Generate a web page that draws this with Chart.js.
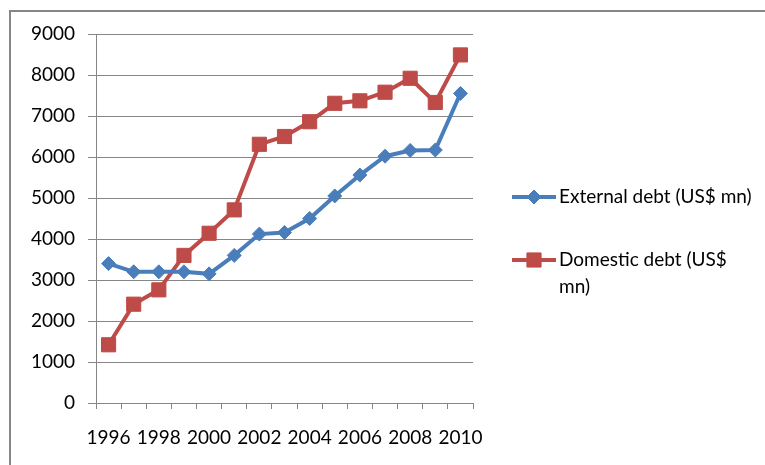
<!DOCTYPE html>
<html>
<head>
<meta charset="utf-8">
<script src="https://cdn.jsdelivr.net/npm/chart.js@4.4.1/dist/chart.umd.min.js"></script>
<style>
html,body{margin:0;padding:0;background:#fff;overflow:hidden;}
#wrap{position:relative;width:765px;height:465px;}
#frame{position:absolute;left:9px;top:10px;width:800px;height:500px;border-left:2px solid #868686;border-top:2px solid #868686;box-sizing:border-box;}
canvas{position:absolute;left:0;top:0;}
</style>
</head>
<body>
<div id="wrap">
<div id="frame"></div>
<canvas id="c" width="765" height="465"></canvas>
</div>
<script>
const years = ['1996','1997','1998','1999','2000','2001','2002','2003','2004','2005','2006','2007','2008','2009','2010'];
const externalDebt = [3400, 3200, 3200, 3200, 3150, 3600, 4120, 4160, 4500, 5050, 5560, 6020, 6160, 6170, 7550];
const domesticDebt = [1420, 2410, 2760, 3600, 4140, 4710, 6310, 6500, 6860, 7310, 7370, 7580, 7920, 7330, 8490];
const seriesNames = ['External debt (US$ mn)', 'Domestic debt (US$ mn)'];
const legendLines = [['External debt (US$ mn)'], ['Domestic debt (US$', 'mn)']];
const yTicks = [0, 1000, 2000, 3000, 4000, 5000, 6000, 7000, 8000, 9000];

const BLUE = '#4A7EBB';
const RED = '#BE4B48';
const FONT = 'Lato, "Open Sans", sans-serif';
const FSIZE = 19;

const legendPlugin = {
  id: 'customLegend',
  afterDraw(chart) {
    const ctx = chart.ctx;
    const rows = [{y: 197, lines: legendLines[0], ds: 0}, {y: 260, lines: legendLines[1], ds: 1}];
    ctx.save();
    rows.forEach(r => {
      const ds = chart.data.datasets[r.ds];
      ctx.strokeStyle = ds.borderColor;
      ctx.lineWidth = 4;
      ctx.beginPath();
      ctx.moveTo(512, r.y);
      ctx.lineTo(556, r.y);
      ctx.stroke();
      ctx.fillStyle = ds.pointBackgroundColor;
      ctx.strokeStyle = ds.borderColor;
      ctx.lineWidth = 1;
      Chart.helpers.drawPoint(ctx, {pointStyle: ds.pointStyle, radius: ds.pointRadius, borderWidth: 1}, 534, r.y);
      ctx.fillStyle = '#000';
      ctx.font = FSIZE + 'px ' + FONT;
      ctx.textBaseline = 'middle';
      ctx.textAlign = 'left';
      r.lines.forEach((t, i) => ctx.fillText(t, 559, r.y + i * 27));
    });
    ctx.restore();
  }
};

new Chart(document.getElementById('c'), {
  type: 'line',
  data: {
    labels: years,
    datasets: [
      {label: seriesNames[0], data: externalDebt, borderColor: BLUE, backgroundColor: BLUE,
       pointBackgroundColor: BLUE, pointBorderColor: BLUE, borderWidth: 4, pointStyle: 'rectRot',
       pointRadius: 7, pointBorderWidth: 1, tension: 0, fill: false},
      {label: seriesNames[1], data: domesticDebt, borderColor: RED, backgroundColor: RED,
       pointBackgroundColor: RED, pointBorderColor: RED, borderWidth: 4, pointStyle: 'rect',
       pointRadius: 10, pointBorderWidth: 1, tension: 0, fill: false}
    ]
  },
  options: {
    responsive: false,
    animation: false,
    devicePixelRatio: 1,
    layout: {padding: {left: 0, top: 34, right: 292, bottom: 0}},
    plugins: {legend: {display: false}, tooltip: {enabled: false}},
    scales: {
      x: {
        type: 'category',
        offset: true,
        afterFit: s => { s.height = 62; },
        grid: {offset: true, drawOnChartArea: false, drawTicks: true, tickLength: 6, color: '#868686', lineWidth: 1},
        border: {color: '#868686', width: 1},
        ticks: {autoSkip: false, maxRotation: 0, padding: 17, color: '#000', font: {family: FONT, size: FSIZE},
                callback: (v, i) => (i % 2 === 0 ? years[i] : '')}
      },
      y: {
        min: 0, max: 9000,
        afterFit: s => { s.width = 96; },
        afterBuildTicks: s => { s.ticks = yTicks.map(v => ({value: v})); },
        grid: {color: '#868686', lineWidth: 1, tickLength: 8, drawTicks: true},
        border: {color: '#868686', width: 1},
        ticks: {padding: 13, color: '#000', font: {family: FONT, size: FSIZE},
                callback: v => String(v)}
      }
    }
  },
  plugins: [legendPlugin]
});
</script>
</body>
</html>
